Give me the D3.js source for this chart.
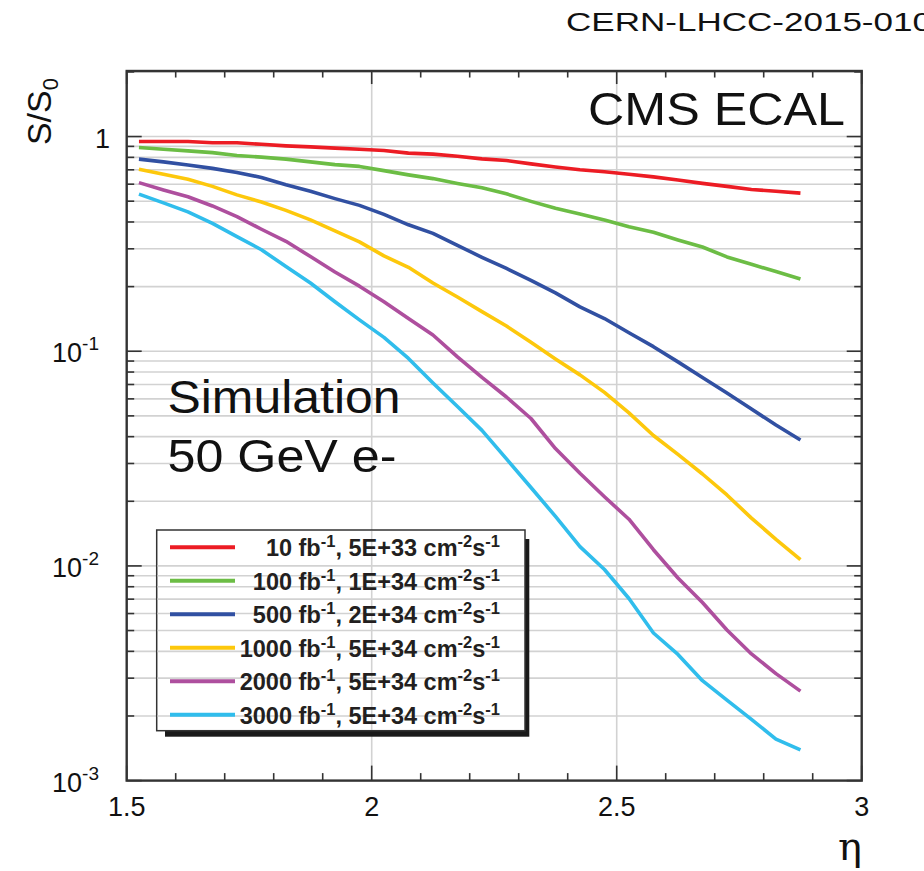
<!DOCTYPE html>
<html><head><meta charset="utf-8">
<script src="https://cdn.jsdelivr.net/npm/d3@7/dist/d3.min.js"></script>
<style>
body{margin:0;background:#fff;}
svg{display:block;font-family:"Liberation Sans",Arial,Helvetica,sans-serif;}
</style>
</head><body>
<svg id="c" width="924" height="871"></svg>
<script>
// ---- data ----
const eta = [1.525,1.575,1.625,1.675,1.725,1.775,1.825,1.875,1.925,1.975,2.025,2.075,2.125,2.175,
             2.225,2.275,2.325,2.375,2.425,2.475,2.525,2.575,2.625,2.675,2.725,2.775,2.825,2.875];
const s10fb = [0.948,0.948,0.948,0.935,0.935,0.920,0.905,0.895,0.883,0.872,0.861,0.837,0.828,0.809,
               0.787,0.773,0.746,0.722,0.700,0.685,0.667,0.649,0.628,0.605,0.586,0.567,0.556,0.545];
const s100fb = [0.889,0.872,0.858,0.842,0.816,0.802,0.785,0.762,0.740,0.726,0.694,0.663,0.637,0.605,
                0.578,0.541,0.499,0.463,0.436,0.409,0.380,0.358,0.330,0.306,0.275,0.254,0.235,0.217];
const s500fb = [0.785,0.762,0.737,0.711,0.680,0.645,0.596,0.556,0.514,0.478,0.434,0.388,0.354,0.311,
                0.274,0.243,0.214,0.187,0.161,0.142,0.122,0.105,0.0892,0.0755,0.0639,0.0538,0.0453,0.0386];
const s1000fb = [0.705,0.667,0.632,0.586,0.535,0.496,0.453,0.409,0.364,0.323,0.278,0.246,0.208,0.179,
                 0.153,0.131,0.110,0.0921,0.0776,0.0643,0.0516,0.0405,0.0331,0.0268,0.0214,0.0167,0.0133,0.0107];
const s2000fb = [0.610,0.564,0.524,0.475,0.424,0.370,0.325,0.276,0.234,0.201,0.170,0.142,0.119,0.0941,
                 0.0755,0.0612,0.0486,0.0352,0.0270,0.0210,0.0165,0.0119,0.00878,0.00675,0.00503,0.00389,0.00315,0.00261];
const s3000fb = [0.539,0.491,0.446,0.394,0.342,0.297,0.248,0.208,0.170,0.140,0.116,0.0926,0.0712,0.0553,
                 0.0428,0.0315,0.0232,0.0170,0.0123,0.00962,0.00705,0.00487,0.00387,0.00292,0.00237,0.00193,0.00156,0.00139];
const lumiLabels = ["10","100","500","1000","2000","3000"];
const instLabels = ["5E+33","1E+34","2E+34","5E+34","5E+34","5E+34"];
const seriesColors = ["#ec1c24","#6cbd45","#3150a2","#fdc80c","#ae4f9e","#30bdec"];
const xTickValues = [1.5,2,2.5,3];
const xTickLabels = ["1.5","2","2.5","3"];
const yTickValues = [1,0.1,0.01,0.001];
const yTickBase = ["1","10","10","10"];
const yTickExp = ["","-1","-2","-3"];

const series = [s10fb,s100fb,s500fb,s1000fb,s2000fb,s3000fb];

// ---- layout ----
const L=126.7, R=861.7, T=71, B=780.6;
const svg = d3.select("#c");
const x = d3.scaleLinear().domain([1.5,3]).range([L,R]);
const y = d3.scaleLog().domain([0.001,2.02]).range([B,T]);

// grid
const gridColor = "#d2d2d2";
const gy = y.ticks().filter(v => v>0.001 && v<2.02);
svg.append("g").selectAll("line").data(gy).join("line")
  .attr("x1",L).attr("x2",R).attr("y1",d=>y(d)).attr("y2",d=>y(d))
  .attr("stroke",gridColor).attr("stroke-width",1.6);
svg.append("g").selectAll("line").data(xTickValues.filter(v=>v>1.5&&v<3)).join("line")
  .attr("x1",d=>x(d)).attr("x2",d=>x(d)).attr("y1",T).attr("y2",B)
  .attr("stroke",gridColor).attr("stroke-width",1.6);

// curves
const line = d3.line().x((d,i)=>x(eta[i])).y(d=>y(d));
svg.append("g").selectAll("path").data(series).join("path")
  .attr("d",d=>line(d)).attr("fill","none")
  .attr("stroke",(d,i)=>seriesColors[i]).attr("stroke-width",3.6)
  .attr("stroke-linejoin","round");

// frame ticks
const axisColor = "#333";
const xt = x.ticks(15);
const isMajorX = v => xTickValues.some(t=>Math.abs(t-v)<1e-6);
const tk = svg.append("g").attr("stroke",axisColor).attr("stroke-width",1.6);
xt.forEach(v=>{
  const len = isMajorX(v)?15:7.5;
  tk.append("line").attr("x1",x(v)).attr("x2",x(v)).attr("y1",B).attr("y2",B-len);
  tk.append("line").attr("x1",x(v)).attr("x2",x(v)).attr("y1",T).attr("y2",T+len*0.87);
});
const yt = y.ticks();
const isMajorY = v => yTickValues.some(t=>Math.abs(Math.log10(t)-Math.log10(v))<1e-6);
yt.forEach(v=>{
  if (v>2.02) return;
  const len = isMajorY(v)?15:7.5;
  tk.append("line").attr("x1",L).attr("x2",L+len).attr("y1",y(v)).attr("y2",y(v));
  tk.append("line").attr("x1",R).attr("x2",R-len).attr("y1",y(v)).attr("y2",y(v));
});
svg.append("rect").attr("x",L).attr("y",T).attr("width",R-L).attr("height",B-T)
  .attr("fill","none").attr("stroke",axisColor).attr("stroke-width",2.4);

// tick labels
svg.append("g").selectAll("text").data(xTickValues).join("text")
  .attr("x",d=>x(d)).attr("y",816).attr("text-anchor","middle")
  .attr("font-size",27).attr("fill","#111").text((d,i)=>xTickLabels[i]);
const yl = svg.append("g").attr("font-size",27).attr("fill","#111");
yTickValues.forEach((v,i)=>{
  const t = yl.append("text").attr("y",y(v)+11).attr("text-anchor","end")
     .attr("x", yTickExp[i] ? 99 : 110);
  t.append("tspan").text(yTickBase[i]);
  if (yTickExp[i]) t.append("tspan").attr("dy",-12).attr("font-size",19).text(yTickExp[i]);
});

// axis titles
const yt2 = svg.append("text").attr("transform","translate(51,78) rotate(-90)")
  .attr("text-anchor","end").attr("font-size",34).attr("fill","#111");
yt2.append("tspan").text("S/S");
yt2.append("tspan").attr("dy",7).attr("font-size",22).text("0");
svg.append("text").attr("x",862).attr("y",860).attr("text-anchor","end")
  .attr("font-family","'DejaVu Serif','Liberation Serif',serif").attr("font-size",40)
  .attr("fill","#111").text("η");

// labels
svg.append("text").attr("x",566).attr("y",31).attr("font-size",25)
  .attr("textLength",366).attr("lengthAdjust","spacingAndGlyphs")
  .attr("fill","#111").text("CERN-LHCC-2015-010");
svg.append("text").attr("x",588).attr("y",125).attr("font-size",46)
  .attr("textLength",257).attr("lengthAdjust","spacingAndGlyphs")
  .attr("fill","#111").text("CMS ECAL");
svg.append("text").attr("x",167.5).attr("y",413).attr("font-size",46)
  .attr("textLength",233).attr("lengthAdjust","spacingAndGlyphs")
  .attr("fill","#111").text("Simulation");
svg.append("text").attr("x",167.5).attr("y",472).attr("font-size",46)
  .attr("textLength",229).attr("lengthAdjust","spacingAndGlyphs")
  .attr("fill","#111").text("50 GeV e-");

// legend
const lg = svg.append("g");
lg.append("rect").attr("x",165).attr("y",539).attr("width",364.3).attr("height",197.7).attr("fill","#1a1a1a");
lg.append("rect").attr("x",156.7).attr("y",530).attr("width",368.3).attr("height",200.7)
  .attr("fill","#fff").attr("stroke","#333").attr("stroke-width",1.5);
// grid shows through legend
lg.append("g").selectAll("line").data(gy.filter(v=>y(v)>531&&y(v)<730)).join("line")
  .attr("x1",157.5).attr("x2",524).attr("y1",d=>y(d)).attr("y2",d=>y(d))
  .attr("stroke",gridColor).attr("stroke-width",1.6);
lg.append("line").attr("x1",x(2)).attr("x2",x(2)).attr("y1",531).attr("y2",730)
  .attr("stroke",gridColor).attr("stroke-width",1.6);
const rowY = d3.scaleLinear().domain([0,5]).range([547.3,714.7]);
lumiLabels.forEach((lum,i)=>{
  const yy = rowY(i);
  lg.append("line").attr("x1",170).attr("x2",235).attr("y1",yy).attr("y2",yy)
    .attr("stroke",seriesColors[i]).attr("stroke-width",4);
  const t = lg.append("text").attr("x",500).attr("y",yy+9).attr("text-anchor","end")
    .attr("font-size",23.5).attr("font-weight","bold").attr("fill","#231f20");
  t.append("tspan").text(lum+" fb");
  t.append("tspan").attr("dy",-9).attr("font-size",16.5).text("-1");
  t.append("tspan").attr("dy",9).text(", "+instLabels[i]+" cm");
  t.append("tspan").attr("dy",-9).attr("font-size",16.5).text("-2");
  t.append("tspan").attr("dy",9).text("s");
  t.append("tspan").attr("dy",-9).attr("font-size",16.5).text("-1");
});
</script>
</body></html>
